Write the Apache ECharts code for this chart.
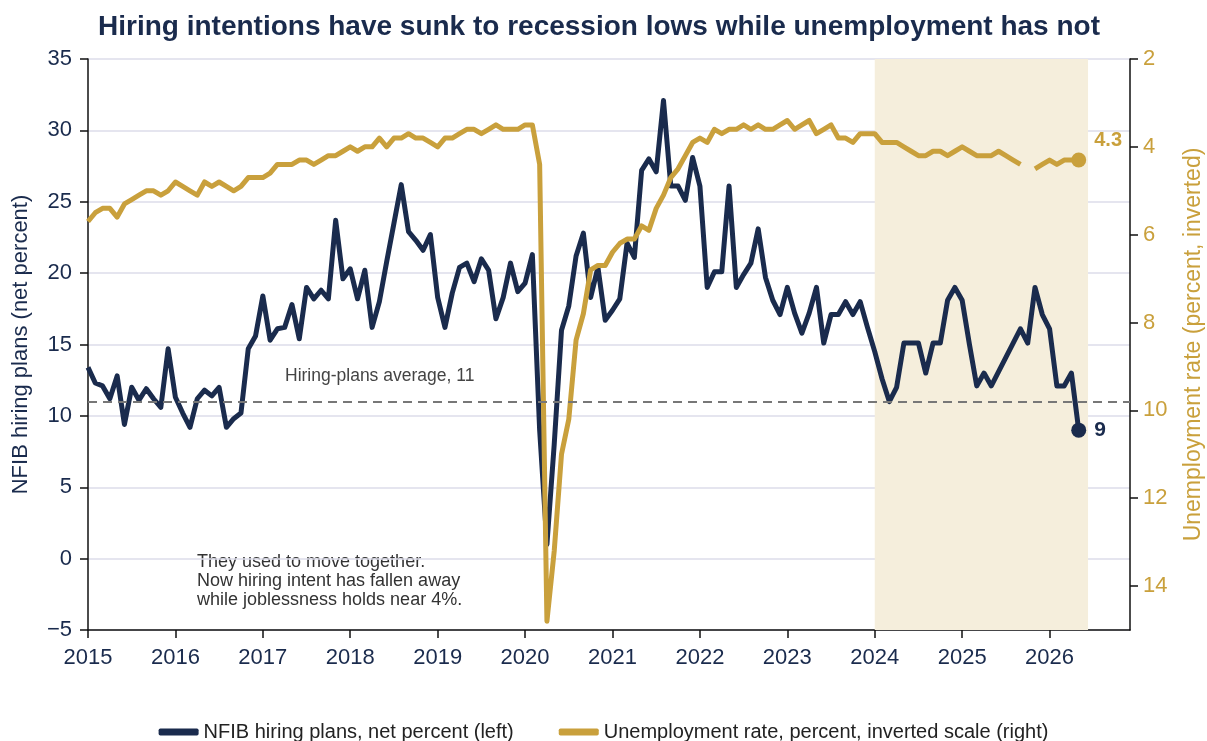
<!DOCTYPE html>
<html>
<head>
<meta charset="utf-8">
<script src="https://cdn.jsdelivr.net/npm/echarts@6/dist/echarts.min.js"></script>
<style>
  html, body { margin: 0; padding: 0; background: #fff; }
  #chart { width: 1207px; height: 741px; }
</style>
</head>
<body>
<div id="chart"></div>
<script>
// monthly, Jan 2015 .. May 2026
var startYear = 2015;
var nfib = [
  13.4, 12.3, 12.1, 11.2, 12.8, 9.4, 12.0, 11.1, 11.9, 11.2, 10.6, 14.7,
  11.3, 10.2, 9.2, 11.2, 11.8, 11.4, 12.0, 9.2, 9.8, 10.2, 14.7, 15.6,
  18.4, 15.3, 16.1, 16.2, 17.8, 15.4, 19.0, 18.2, 18.8, 18.2, 23.7, 19.6,
  20.3, 18.2, 20.2, 16.2, 18.0, 20.8, 23.5, 26.2, 22.9, 22.3, 21.6, 22.7,
  18.3, 16.2, 18.6, 20.4, 20.7, 19.4, 21.0, 20.2, 16.8, 18.3, 20.7, 18.7,
  19.3, 21.3, 9.0, 1.0, 8.0, 16.0, 17.7, 21.2, 22.8, 18.3, 20.4, 16.7,
  17.4, 18.2, 22.1, 21.1, 27.2, 28.0, 27.1, 32.1, 26.1, 26.1, 25.1, 28.1,
  26.1, 19.0, 20.1, 20.1, 26.1, 19.0, 19.9, 20.7, 23.1, 19.7, 18.1, 17.1,
  19.0, 17.2, 15.8, 17.2, 19.0, 15.1, 17.1, 17.1, 18.0, 17.1, 18.0, 16.2,
  14.5, 12.6, 11.0, 12.0, 15.1, 15.1, 15.1, 13.0, 15.1, 15.1, 18.1, 19.0,
  18.1, 15.0, 12.1, 13.0, 12.1, 13.1, 14.1, 15.1, 16.1, 15.1, 19.0, 17.1,
  16.1, 12.1, 12.1, 13.0, 9.0
];
var unrate = [
  5.7, 5.5, 5.4, 5.4, 5.6, 5.3, 5.2, 5.1, 5.0, 5.0, 5.1, 5.0,
  4.8, 4.9, 5.0, 5.1, 4.8, 4.9, 4.8, 4.9, 5.0, 4.9, 4.7, 4.7,
  4.7, 4.6, 4.4, 4.4, 4.4, 4.3, 4.3, 4.4, 4.3, 4.2, 4.2, 4.1,
  4.0, 4.1, 4.0, 4.0, 3.8, 4.0, 3.8, 3.8, 3.7, 3.8, 3.8, 3.9,
  4.0, 3.8, 3.8, 3.7, 3.6, 3.6, 3.7, 3.6, 3.5, 3.6, 3.6, 3.6,
  3.5, 3.5, 4.4, 14.8, 13.2, 11.0, 10.2, 8.4, 7.8, 6.8, 6.7, 6.7,
  6.4, 6.2, 6.1, 6.1, 5.8, 5.9, 5.4, 5.1, 4.7, 4.5, 4.2, 3.9,
  3.8, 3.9, 3.6, 3.7, 3.6, 3.6, 3.5, 3.6, 3.5, 3.6, 3.6, 3.5,
  3.4, 3.6, 3.5, 3.4, 3.7, 3.6, 3.5, 3.8, 3.8, 3.9, 3.7, 3.7,
  3.7, 3.9, 3.9, 3.9, 4.0, 4.1, 4.2, 4.2, 4.1, 4.1, 4.2, 4.1,
  4.0, 4.1, 4.2, 4.2, 4.2, 4.1, 4.2, 4.3, 4.4, null, 4.5, 4.4,
  4.3, 4.4, 4.3, 4.3, 4.3
];
var yearTicks = [2015, 2016, 2017, 2018, 2019, 2020, 2021, 2022, 2023, 2024, 2025, 2026];
var unrateTicks = [2, 4, 6, 8, 10, 12, 14];
var hiringAverage = 11;
var shadeStart = 2024, shadeEnd = 2026.44;
var legendNames = ['NFIB hiring plans, net percent (left)', 'Unemployment rate, percent, inverted scale (right)'];

var navy = '#1a2b4d';
var gold = '#c9a03c';
var fontFamily = '"Liberation Sans", Arial, sans-serif';

function monthX(i) {
  return startYear + i / 12;
}

function toPairs(arr) {
  var out = [];
  for (var i = 0; i < arr.length; i++) {
    out.push([monthX(i), arr[i]]);
  }
  return out;
}

function lastPoint(arr) {
  var i = arr.length - 1;
  return [monthX(i), arr[i]];
}

var myChart = echarts.init(document.getElementById('chart'));
var option = {
  backgroundColor: '#ffffff',
  textStyle: {fontFamily: fontFamily},
  animation: false,
  title: {
    text: 'Hiring intentions have sunk to recession lows while unemployment has not',
    left: 594,
    top: 8,
    textAlign: 'center',
    textStyle: {color: navy, fontSize: 28, fontWeight: 'bold', fontFamily: fontFamily}
  },
  legend: {
    data: legendNames,
    top: 717,
    left: 'center',
    itemGap: 45,
    itemWidth: 40,
    itemHeight: 7,
    icon: 'roundRect',
    textStyle: {fontSize: 20, color: '#222', fontFamily: fontFamily}
  },
  grid: {left: 88, right: 77, top: 59, bottom: 111, containLabel: false, outerBoundsMode: 'none'},
  xAxis: {
    type: 'value',
    min: 2015,
    max: 2026.92,
    splitLine: {show: false},
    axisLine: {show: true, onZero: false, lineStyle: {color: '#111', width: 1.5}},
    axisTick: {show: true, length: 8, customValues: yearTicks, lineStyle: {color: '#111', width: 1.5}},
    axisLabel: {fontSize: 22, color: navy, margin: 17, customValues: yearTicks, formatter: function (v) { return String(v); }}
  },
  yAxis: [{
    type: 'value',
    position: 'left',
    min: -5,
    max: 35,
    interval: 5,
    name: 'NFIB hiring plans (net percent)',
    nameLocation: 'middle',
    nameGap: 56,
    nameTextStyle: {color: navy, fontSize: 22},
    axisLine: {show: true, lineStyle: {color: '#111', width: 1.5}},
    axisTick: {show: true, length: 8, lineStyle: {color: '#111', width: 1.5}},
    axisLabel: {
      fontSize: 22, color: navy, margin: 16,
      formatter: function (v) { return v < 0 ? '\u2212' + Math.abs(v) : String(v); }
    },
    splitLine: {show: true, lineStyle: {color: '#dcdcea', width: 1.5}}
  }, {
    type: 'value',
    position: 'right',
    inverse: true,
    min: 2,
    max: 15,
    name: 'Unemployment rate (percent, inverted)',
    nameLocation: 'middle',
    nameGap: 52,
    nameRotate: 90,
    nameTextStyle: {color: gold, fontSize: 23},
    axisLine: {show: true, lineStyle: {color: '#111', width: 1.5}},
    axisTick: {show: true, length: 8, customValues: unrateTicks, lineStyle: {color: '#111', width: 1.5}},
    axisLabel: {fontSize: 22, color: gold, margin: 13, customValues: unrateTicks},
    splitLine: {show: false}
  }],
  graphic: [{
    type: 'text',
    left: 285,
    top: 367,
    style: {text: 'Hiring-plans average, 11', fill: '#444', fontSize: 17.5, fontFamily: fontFamily}
  }, {
    type: 'text',
    left: 197,
    top: 553,
    style: {
      text: 'They used to move together.\nNow hiring intent has fallen away\nwhile joblessness holds near 4%.',
      fill: '#333', fontSize: 18, lineHeight: 19, fontFamily: fontFamily
    }
  }],
  series: [{
    name: legendNames[0],
    type: 'line',
    yAxisIndex: 0,
    showSymbol: false,
    lineStyle: {color: navy, width: 5, join: 'round'},
    itemStyle: {color: navy},
    markArea: {
      silent: true,
      itemStyle: {color: '#f5eedc'},
      data: [[{xAxis: shadeStart}, {xAxis: shadeEnd}]]
    },
    markLine: {
      silent: true,
      symbol: 'none',
      label: {show: false},
      lineStyle: {color: '#777', type: [9, 6], width: 2},
      data: [{yAxis: hiringAverage}]
    },
    markPoint: {
      silent: true,
      symbol: 'circle',
      symbolSize: 15,
      itemStyle: {color: navy},
      label: {
        show: true, position: 'right', distance: 8, color: navy, fontSize: 21, fontWeight: 'bold',
        formatter: function (p) { return String(p.data.coord[1]); }
      },
      data: [{coord: lastPoint(nfib)}]
    },
    data: toPairs(nfib)
  }, {
    name: legendNames[1],
    type: 'line',
    yAxisIndex: 1,
    showSymbol: false,
    connectNulls: false,
    lineStyle: {color: gold, width: 5, join: 'round'},
    itemStyle: {color: gold},
    markPoint: {
      silent: true,
      symbol: 'circle',
      symbolSize: 15,
      itemStyle: {color: gold},
      label: {
        show: true, position: 'right', distance: 8, offset: [0, -20], color: gold, fontSize: 20, fontWeight: 'bold',
        formatter: function (p) { return p.data.coord[1].toFixed(1); }
      },
      data: [{coord: lastPoint(unrate)}]
    },
    data: toPairs(unrate)
  }]
};

myChart.setOption(option);
</script>
</body>
</html>
